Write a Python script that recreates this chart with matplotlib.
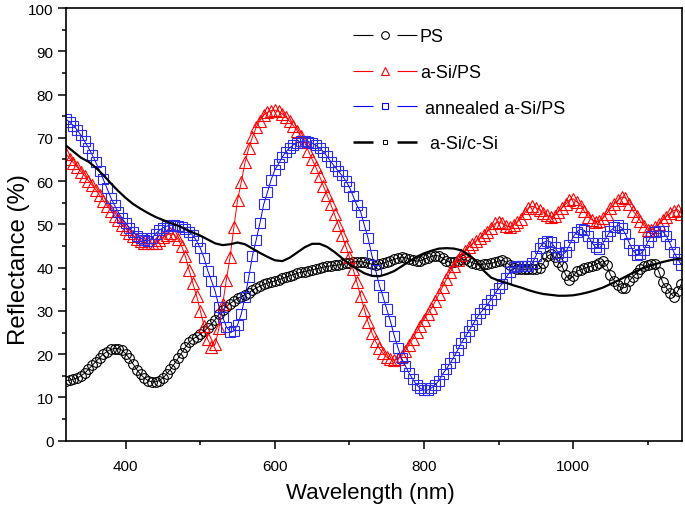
import numpy as np
import matplotlib
matplotlib.use("Agg")
import matplotlib.pyplot as plt
from matplotlib.lines import Line2D

plt.rcParams['font.family'] = ['Liberation Sans', 'DejaVu Sans']
plt.rcParams['lines.scale_dashes'] = False

# wavelength grid of the marker series (nm)
wl = np.arange(320, 1146, 5)

# PS
ps = [13.9, 14.0, 14.2, 14.5, 15.0, 15.6, 16.5, 17.4, 18.3, 19.2,
      20.0, 20.6, 21.1, 21.3, 21.3, 20.9, 20.1, 19.0, 17.7, 16.4,
      15.3, 14.5, 13.9, 13.6, 13.6, 13.9, 14.5, 15.4, 16.5, 17.7,
      19.0, 20.3, 21.6, 22.7, 23.5, 24.0, 24.6, 25.3, 26.1, 27.0,
      28.0, 29.2, 30.2, 31.0, 31.7, 32.3, 32.9, 33.3, 33.7, 34.2,
      34.8, 35.3, 35.7, 36.1, 36.4, 36.7, 36.9, 37.2, 37.5, 37.8,
      38.1, 38.4, 38.7, 38.9, 39.1, 39.3, 39.5, 39.7, 39.9, 40.1,
      40.3, 40.4, 40.5, 40.6, 40.8, 41.0, 41.1, 41.3, 41.4, 41.4,
      41.2, 41.0, 40.8, 40.7, 40.8, 41.0, 41.3, 41.6, 41.9, 42.2,
      42.4, 42.3, 42.0, 41.7, 41.5, 41.6, 41.9, 42.3, 42.6, 42.8,
      42.7, 42.2, 41.6, 41.2, 41.3, 41.6, 42.0, 41.9, 41.5, 41.1,
      40.8, 40.7, 40.8, 40.9, 41.0, 41.2, 41.5, 41.7, 41.3, 40.5,
      40.0, 39.7, 39.6, 39.6, 39.7, 39.7, 39.6, 39.8, 41.0, 42.6,
      43.1, 42.4, 41.4, 40.4, 38.3, 37.2, 38.0, 39.2, 39.5, 39.8,
      40.1, 40.4, 40.7, 41.1, 41.6, 40.5, 38.3, 37.0, 35.9, 35.3,
      35.4, 36.8, 37.9, 38.7, 39.6, 40.3, 40.6, 40.8, 40.8, 39.0,
      36.6, 35.3, 34.2, 33.3, 34.5, 36.2]

# a-Si/PS
asi_ps = [66.3, 65.2, 64.2, 63.2, 62.2, 61.2, 60.1, 59.0, 57.9, 56.7,
          55.5, 54.3, 53.2, 52.0, 50.9, 49.9, 49.0, 48.1, 47.4, 46.7,
          46.1, 45.8, 45.6, 45.6, 45.8, 46.3, 47.0, 47.5, 47.9, 47.6,
          46.6, 45.0, 42.6, 39.5, 36.4, 33.5, 30.0, 26.6, 23.4, 21.7,
          22.3, 26.0, 31.5, 37.2, 42.5, 49.3, 55.6, 59.8, 64.3, 67.6,
          70.2, 72.4, 74.0, 75.2, 75.9, 76.3, 76.4, 76.1, 75.5, 74.7,
          73.8, 72.8, 71.6, 70.4, 69.0, 66.9, 65.0, 63.2, 61.1, 58.9,
          56.8, 54.6, 52.3, 49.9, 47.5, 45.0, 42.4, 39.6, 36.6, 33.4,
          30.3, 27.4, 25.0, 23.0, 21.4, 20.2, 19.3, 18.8, 18.6, 18.9,
          19.6, 20.8, 22.2, 23.6, 25.1, 26.6, 28.0, 29.3, 30.6, 32.2,
          33.8, 35.6, 37.3, 38.9, 40.3, 41.7, 42.9, 43.8, 44.7, 45.5,
          46.2, 46.9, 47.6, 48.3, 49.2, 50.2, 50.6, 50.2, 49.7, 49.4,
          49.8, 50.6, 51.3, 52.6, 53.8, 54.2, 53.8, 53.3, 52.7, 52.1,
          51.6, 52.0, 52.9, 53.8, 54.7, 55.6, 55.9, 55.2, 54.3, 53.0,
          51.8, 51.0, 50.5, 50.7, 51.4, 52.5, 53.7, 54.7, 55.6, 56.3,
          56.2, 54.7, 53.2, 52.0, 50.8, 49.7, 48.7, 48.7, 49.3, 50.0,
          51.0, 51.8, 52.6, 53.2, 53.4, 52.5]

# annealed a-Si/PS
ann = [74.3, 73.6, 72.8, 71.8, 70.6, 69.2, 67.7, 66.1, 64.3, 62.4,
       60.4, 58.3, 56.2, 54.4, 52.8, 51.4, 50.3, 49.2, 48.2, 47.4,
       46.8, 46.3, 46.2, 46.8, 47.8, 48.6, 49.2, 49.6, 49.8, 49.8,
       49.7, 49.4, 48.9, 48.2, 47.5, 46.2, 44.5, 42.3, 39.3, 37.0,
       34.5, 31.0, 28.6, 26.3, 25.2, 25.3, 26.8, 29.3, 33.2, 37.8,
       42.8, 46.4, 50.3, 54.6, 57.4, 60.3, 62.6, 64.0, 65.6, 66.8,
       67.7, 68.4, 68.9, 69.2, 69.3, 69.1, 68.8, 68.3, 67.6, 66.8,
       65.7, 64.5, 63.4, 62.3, 61.3, 60.1, 58.6, 56.5, 54.4, 52.9,
       49.8, 46.8, 42.9, 39.4, 36.0, 33.3, 30.4, 27.6, 24.3, 21.5,
       19.0, 17.3, 15.6, 14.2, 12.9, 12.1, 11.7, 11.7, 12.2, 12.9,
       13.9, 15.4, 16.6, 17.9, 19.3, 20.9, 22.6, 23.9, 25.3, 26.7,
       28.2, 29.4, 30.4, 31.5, 32.6, 33.9, 35.2, 36.3, 37.7, 39.0,
       40.1, 40.4, 40.4, 40.4, 40.4, 41.0, 42.7, 44.6, 45.8, 46.2,
       45.9, 44.8, 43.4, 42.8, 43.6, 45.2, 47.1, 48.3, 48.9, 48.6,
       47.3, 45.8, 44.7, 44.4, 45.6, 47.2, 48.5, 49.3, 49.8, 49.2,
       47.8, 45.8, 44.0, 43.0, 43.1, 44.1, 45.9, 47.4, 48.2, 48.5,
       48.4, 47.3, 45.5, 43.6, 42.0, 40.7]

# a-Si/c-Si (solid line)
wl_csi = np.arange(320, 1151, 10)
asi_csi = [68.2, 66.8, 65.4, 64.5, 63.1, 61.4, 59.5, 57.7, 56.1, 54.7,
           53.6, 52.6, 51.7, 51.0, 50.3, 49.7, 48.9, 48.1, 47.4, 46.5,
           45.6, 45.2, 45.4, 45.8, 45.4, 44.4, 43.4, 42.5, 41.7, 41.5,
           42.3, 43.5, 44.7, 45.5, 45.5, 44.8, 43.6, 42.2, 40.8, 39.7,
           38.7, 38.1, 38.0, 38.5, 39.2, 40.3, 41.4, 42.5, 43.3, 43.9,
           44.4, 44.5, 44.4, 44.0, 43.0, 41.5, 39.3, 37.7, 37.0, 36.5,
           35.9, 35.4, 34.8, 34.3, 33.9, 33.7, 33.5, 33.5, 33.6, 33.9,
           34.3, 34.8, 35.4, 36.2, 37.0, 37.9, 38.8, 39.6, 40.2, 40.8,
           41.3, 41.7, 42.0, 42.2]

fig = plt.figure(figsize=(6.85, 5.06), dpi=100)
ax = fig.add_axes([0.0964, 0.1271, 0.8993, 0.8551])

ax.plot(wl, ps, color='black', lw=0.7, marker='o', ms=7, mfc='none', mec='black', mew=0.8)
ax.plot(wl, asi_ps, color='red', lw=0.7, marker='^', ms=8, mfc='none', mec='red', mew=0.8)
ax.plot(wl, ann, color='blue', lw=0.7, marker='s', ms=6.5, mfc='none', mec='#2a2ae8', mew=0.8)
ax.plot(wl_csi, asi_csi, color='black', lw=1.6)

ax.set_xlim(320, 1146)
ax.set_ylim(0, 100)
ax.set_xticks([400, 600, 800, 1000])
ax.set_xticks([500, 700, 900, 1100], minor=True)
ax.set_yticks(np.arange(0, 101, 10))
ax.set_yticks(np.arange(5, 100, 10), minor=True)
ax.tick_params(which='both', direction='out', top=False, right=False, labelsize=11, width=1.1)
ax.tick_params(which='major', length=6)
ax.tick_params(which='minor', length=3)
ax.tick_params(axis='x', which='major', pad=7.5)
ax.tick_params(axis='y', which='major', pad=3)
for s in ax.spines.values():
    s.set_linewidth(1.2)

ax.set_xlabel('Wavelength (nm)', fontsize=16)
ax.set_ylabel('Reflectance (%)', fontsize=17.3)
ax.xaxis.set_label_coords(0.4935, -0.095)
ax.yaxis.set_label_coords(-0.058, 0.42)

gap = (0, (14.4, 17.3))
handles = [
    Line2D([], [], color='black', lw=0.8, ls=gap, marker='o', ms=5.5, mfc='none', mew=0.8),
    Line2D([], [], color='red', lw=0.8, ls=gap, marker='^', ms=5.5, mfc='none', mew=0.8),
    Line2D([], [], color='blue', lw=0.8, ls=gap, marker='s', ms=4.5, mfc='none', mew=0.8),
    Line2D([], [], color='black', lw=1.8, ls=gap, marker='s', ms=3, mfc='none', mew=0.7),
]
labels = ['PS', 'a-Si/PS', ' annealed a-Si/PS', '  a-Si/c-Si']
ax.legend(handles, labels, loc='upper left', bbox_to_anchor=(0.466, 0.953),
          frameon=False, fontsize=13, borderpad=0, borderaxespad=0,
          handlelength=46.1 / 13, handletextpad=0.15, labelspacing=1.03, numpoints=1)

fig.savefig('out.png', dpi=100)
